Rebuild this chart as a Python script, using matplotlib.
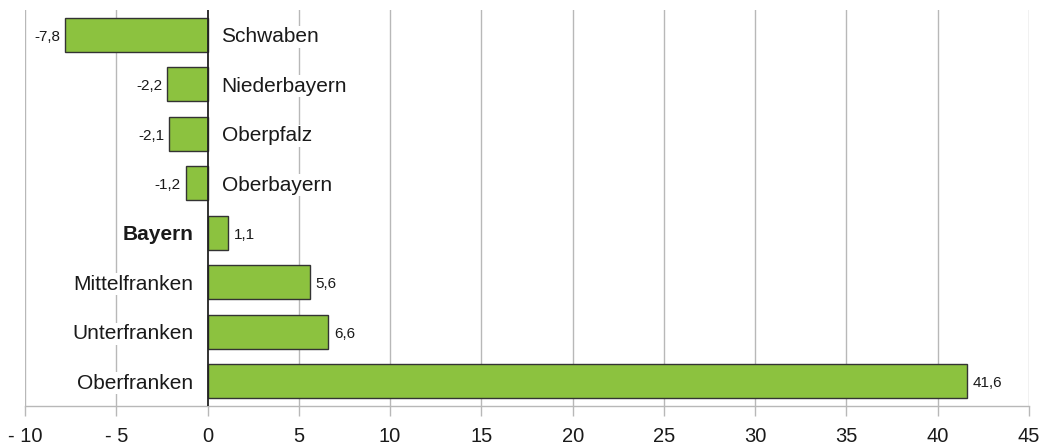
import matplotlib.pyplot as plt
from matplotlib.transforms import offset_copy

plt.rcParams['font.family'] = ['Liberation Sans', 'DejaVu Sans']

# Data (top to bottom)
regions = ['Schwaben', 'Niederbayern', 'Oberpfalz', 'Oberbayern',
           'Bayern', 'Mittelfranken', 'Unterfranken', 'Oberfranken']
values = [-7.8, -2.2, -2.1, -1.2, 1.1, 5.6, 6.6, 41.6]
xticks = [-10, -5, 0, 5, 10, 15, 20, 25, 30, 35, 40, 45]
xticklabels = ['- 10', '- 5', '0', '5', '10', '15', '20', '25', '30', '35', '40', '45']

fig = plt.figure(figsize=(10.4, 4.48), dpi=100)
ax = fig.add_axes([25 / 1040, 42 / 448, 1004 / 1040, 396 / 448])

ypos = list(range(len(regions)))
ax.barh(ypos, values, height=0.69, color='#8cc23f', edgecolor='#333333',
        linewidth=1.0, zorder=3)

ax.set_xlim(-10, 45)
ax.set_ylim(len(regions) - 0.5, -0.5)

for x in xticks:
    if x == 0:
        continue
    ax.axvline(x, color='#b8b8b8', linewidth=1.0, zorder=1)
ax.axvline(0, color='#222222', linewidth=1.3, zorder=4)

for i, (name, v) in enumerate(zip(regions, values)):
    weight = 'bold' if name == 'Bayern' else 'normal'
    lab = f'{v:.1f}'.replace('.', ',')
    if v < 0:
        tr = offset_copy(ax.transData, fig=fig, x=14, y=-2, units='dots')
        ax.text(0, i, name, transform=tr, ha='left', va='center', fontsize=15,
                color='#1a1a1a', fontweight=weight, zorder=5,
                bbox=dict(facecolor='white', edgecolor='none', pad=1))
        tr2 = offset_copy(ax.transData, fig=fig, x=-5, y=-2, units='dots')
        ax.text(v, i, lab, transform=tr2, ha='right', va='center',
                fontsize=11, color='#1a1a1a', zorder=5)
    else:
        tr = offset_copy(ax.transData, fig=fig, x=-14, y=-2, units='dots')
        ax.text(0, i, name, transform=tr, ha='right', va='center', fontsize=15,
                color='#1a1a1a', fontweight=weight, zorder=5,
                bbox=dict(facecolor='white', edgecolor='none', pad=1))
        tr2 = offset_copy(ax.transData, fig=fig, x=6, y=-2, units='dots')
        ax.text(v, i, lab, transform=tr2, ha='left', va='center',
                fontsize=11, color='#1a1a1a', zorder=5)

ax.set_yticks([])
ax.set_xticks(xticks)
ax.set_xticklabels(xticklabels, fontsize=14.5, color='#1a1a1a')
ax.tick_params(axis='x', direction='out', length=7, width=1.0, color='#b8b8b8', pad=8)
ax.get_xticklines()[4].set_color('#222222')
for s in ['top', 'left', 'right']:
    ax.spines[s].set_visible(False)
ax.spines['bottom'].set_color('#b8b8b8')
ax.spines['bottom'].set_linewidth(1.0)

fig.savefig('out.png', dpi=100)
